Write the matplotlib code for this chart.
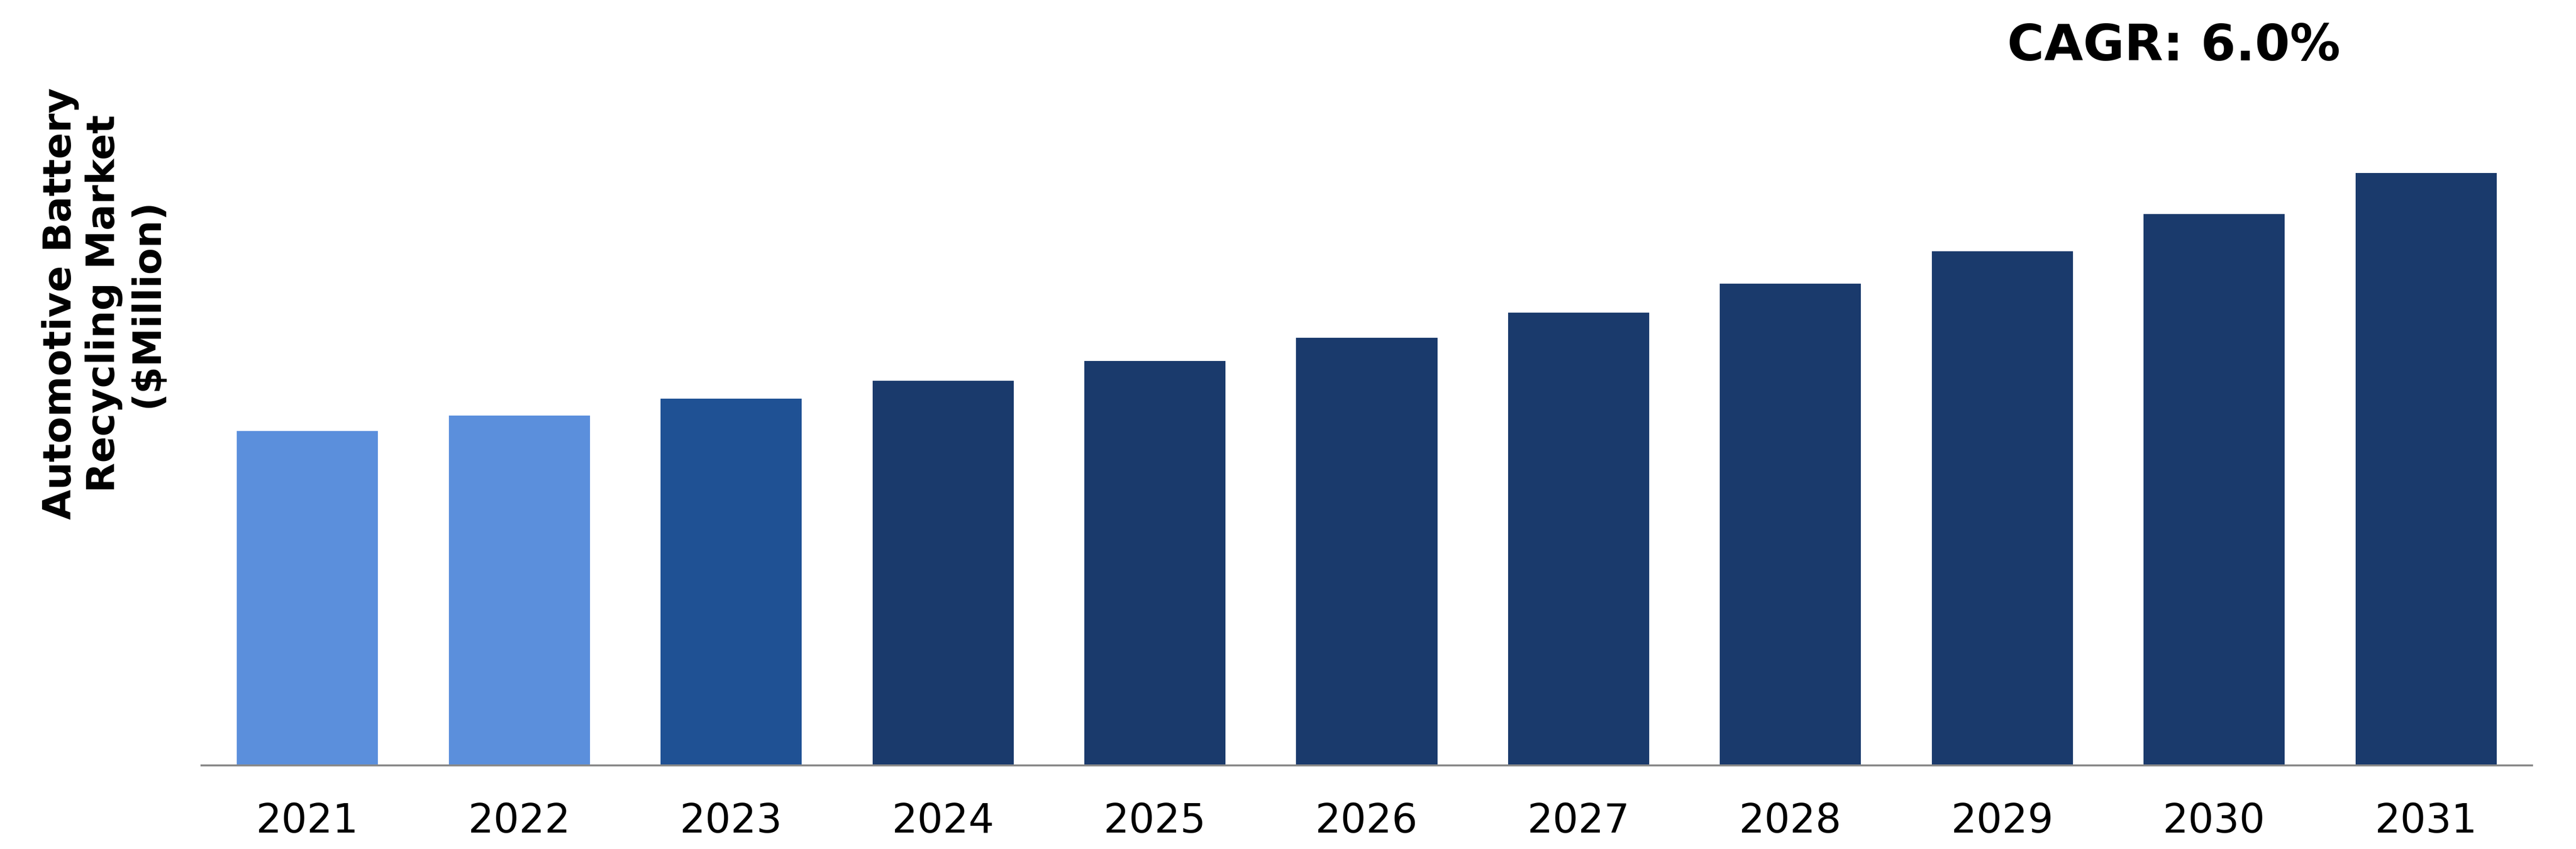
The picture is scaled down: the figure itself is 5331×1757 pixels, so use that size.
import matplotlib
matplotlib.use("Agg")
import matplotlib.pyplot as plt

years = ["2021", "2022", "2023", "2024", "2025", "2026", "2027", "2028", "2029", "2030", "2031"]
values = [692, 724, 759, 796, 837, 885, 937, 997, 1064, 1141, 1226]
bar_colors = ["#5B8FDC", "#5B8FDC", "#1F5194", "#1A3A6C", "#1A3A6C", "#1A3A6C",
              "#1A3A6C", "#1A3A6C", "#1A3A6C", "#1A3A6C", "#1A3A6C"]
ylabel_text = "Automotive Battery\nRecycling Market\n($Million)"
cagr_text = "CAGR: 6.0%"

W, H = 5331, 1757
fig = plt.figure(figsize=(W / 100, H / 100), dpi=100)
plt.rcParams['font.family'] = ['DejaVu Sans']

ax = fig.add_axes([417 / W, (H - 1584) / H, (5240 - 417) / W, 1584 / H])
x = list(range(len(years)))
ax.bar(x, values, width=0.666, color=bar_colors, zorder=2)
ax.set_xlim(-0.5, len(years) - 0.5)
ax.set_ylim(0, 1584)

for s in ["top", "right", "left"]:
    ax.spines[s].set_visible(False)
ax.spines["bottom"].set_color("#898989")
ax.spines["bottom"].set_linewidth(2.9)
ax.spines["bottom"].set_zorder(3)
ax.set_yticks([])
ax.set_xticks(x)
ax.set_xticklabels(years, fontsize=60, color="black")
ax.tick_params(axis="x", length=0, pad=54)

fig.text(215 / W, 1 - 628 / H, ylabel_text, rotation=90, ha="center", va="center",
         multialignment="center", fontsize=58, fontweight="bold", color="black",
         linespacing=1.2)
fig.text(4499 / W, 1 - 96 / H, cagr_text, ha="center", va="center",
         fontsize=75, fontweight="bold", color="black")

fig.savefig("out.png", dpi=100)
